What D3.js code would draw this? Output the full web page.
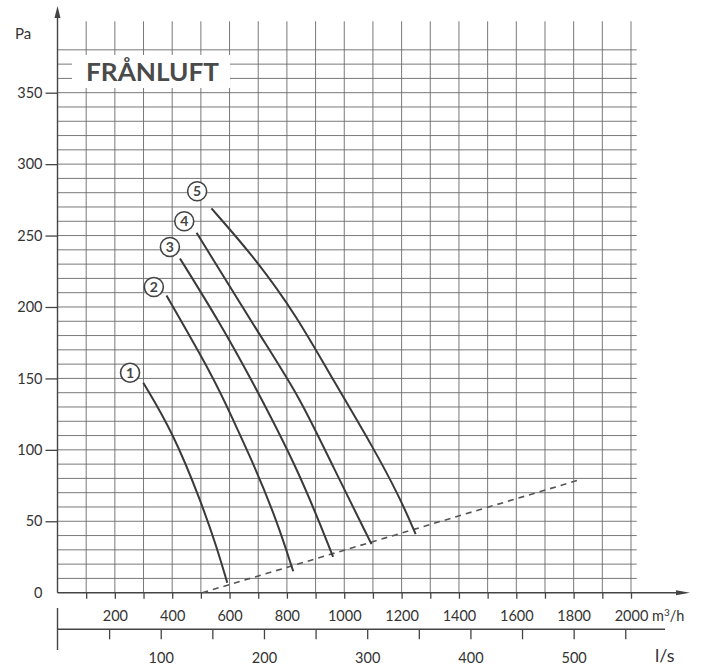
<!DOCTYPE html>
<html lang="sv">
<head>
<meta charset="UTF-8">
<title>Frånluft</title>
<script src="https://cdn.jsdelivr.net/npm/d3@7"></script>
<style>
    body { margin: 0; background: #fff; }
    text { font-family: Lato, 'Noto Sans', sans-serif; fill: #333; }
    .axis path, .axis line { stroke: #444; stroke-width: 1.3; fill: none; }
    .axis text { font-size: 14.5px; }
    .grid line { stroke: #6a6a6a; stroke-width: 0.9; }
    .curve { fill: none; stroke: #3a3a3a; stroke-width: 2; }
</style>
</head>
<body>
<svg id="img" width="708" height="670"></svg>
<script>
// fan curves, [m3/h, Pa]
var curve1 = [[299,147],[403,112],[502,63],[555,32],[592,7]];
var curve2 = [[380,208],[549,149],[612,121],[682,91],[764,51],[822,15]];
var curve3 = [[427,234],[566,189],[677,149],[845,84],[961,25]];
var curve4 = [[485,252],[706,180],[845,137],[961,88],[1095,34]];
var curve5 = [[537,269],[694,233],[833,194],[961,149],[1100,102],[1193,67],[1249,41]];
var curves = [curve1, curve2, curve3, curve4, curve5];
// circled number positions [m3/h, Pa]
var labelPos = [[253,154],[336,214],[392,242],[442,260],[487,281]];
var labelText = ["1","2","3","4","5"];
// dashed system line
var systemLine = [[505,0],[1820,79]];

var paTicks = [0,50,100,150,200,250,300,350];
var m3hTicks = d3.range(100, 2001, 100);
var m3hLabels = [200,400,600,800,1000,1200,1400,1600,1800,2000];
var lsTicks = d3.range(50, 551, 50);
var lsLabels = [100,200,300,400,500];

var svg = d3.select("#img");
var x = d3.scaleLinear().domain([0, 2000]).range([57.5, 631]);
var y = d3.scaleLinear().domain([0, 350]).range([592.7, 92.7]);
var xls = d3.scaleLinear().domain([0, 2000 / 3.6]).range([57.5, 631]);

// grid
var grid = svg.append("g").attr("class", "grid");
grid.selectAll(".v").data(m3hTicks).enter().append("line")
    .attr("x1", function (d) { return x(d); }).attr("x2", function (d) { return x(d); })
    .attr("y1", y(0)).attr("y2", y(400));
grid.selectAll(".h").data(d3.range(10, 381, 10)).enter().append("line")
    .attr("x1", x(0)).attr("x2", x(2020))
    .attr("y1", function (d) { return y(d); }).attr("y2", function (d) { return y(d); });

// title with white box behind
svg.append("rect").attr("x", 72).attr("y", 55).attr("width", 158).attr("height", 33).attr("fill", "#fff");
svg.append("text").attr("x", 86).attr("y", 81)
    .attr("textLength", 133).attr("lengthAdjust", "spacingAndGlyphs")
    .style("font-size", "25px").style("font-weight", "bold").style("fill", "#4a4a4a")
    .text("FRÅNLUFT");

// y axis
var yAxis = d3.axisLeft(y).tickValues(paTicks).tickSize(12).tickPadding(3);
var gy = svg.append("g").attr("class", "axis").attr("transform", "translate(" + x(0) + ",0)").call(yAxis);
gy.select(".domain").remove();
gy.selectAll(".tick").filter(function (d) { return d === 0; }).select("line").remove();
svg.append("line")
    .attr("x1", x(0)).attr("x2", x(0)).attr("y1", y(0)).attr("y2", 14)
    .attr("stroke", "#444").attr("stroke-width", 1.4);
svg.append("path").attr("d", "M" + (x(0) - 3) + ",18L" + x(0) + ",6L" + (x(0) + 3) + ",18Z").attr("fill", "#444");
svg.append("text").attr("x", 15).attr("y", 39).style("font-size", "15px").text("Pa");

// x axis m3/h
var xAxis = d3.axisBottom(x).tickValues(m3hTicks).tickSize(6).tickPadding(12)
    .tickFormat(function (d) { return m3hLabels.indexOf(d) >= 0 ? d : ""; });
var gx = svg.append("g").attr("class", "axis").attr("transform", "translate(0," + y(0) + ")").call(xAxis);
gx.select(".domain").remove();
svg.append("line").attr("x1", x(0)).attr("x2", 682).attr("y1", y(0)).attr("y2", y(0))
    .attr("stroke", "#444").attr("stroke-width", 1.4);
svg.append("path").attr("d", "M676," + (y(0) - 2.5) + "L690," + y(0) + "L676," + (y(0) + 2.5) + "Z").attr("fill", "#444");
svg.append("text").attr("x", 652).attr("y", 621).style("font-size", "14.5px")
    .html("m<tspan dy='-5' style='font-size:10px'>3</tspan><tspan dy='5'>/h</tspan>");

// x axis l/s
var lsAxis = d3.axisBottom(xls).tickValues(lsTicks).tickSize(10).tickPadding(13)
    .tickFormat(function (d) { return lsLabels.indexOf(d) >= 0 ? d : ""; });
var gls = svg.append("g").attr("class", "axis").attr("transform", "translate(0,629.3)").call(lsAxis);
gls.select(".domain").remove();
svg.append("line").attr("x1", x(0)).attr("x2", 665).attr("y1", 629.3).attr("y2", 629.3)
    .attr("stroke", "#444").attr("stroke-width", 1.6);
svg.append("line").attr("x1", x(0)).attr("x2", x(0)).attr("y1", 608).attr("y2", 650)
    .attr("stroke", "#444").attr("stroke-width", 1.4);
svg.append("text").attr("x", 655).attr("y", 662).style("font-size", "18px").text("l/s");

// system line
var line = d3.line().x(function (d) { return x(d[0]); }).y(function (d) { return y(d[1]); });
svg.append("path").attr("d", line(systemLine))
    .attr("fill", "none").attr("stroke", "#555").attr("stroke-width", 1.6)
    .attr("stroke-dasharray", "6,5");

// fan curves
var curveLine = d3.line().curve(d3.curveBasis)
    .x(function (d) { return x(d[0]); }).y(function (d) { return y(d[1]); });
svg.selectAll(".curve").data(curves).enter().append("path")
    .attr("class", "curve").attr("d", curveLine);

// circled numbers
var lab = svg.selectAll(".lab").data(labelPos).enter().append("g")
    .attr("transform", function (d) { return "translate(" + x(d[0]) + "," + y(d[1]) + ")"; });
lab.append("circle").attr("r", 9.5).attr("fill", "#fff").attr("stroke", "#444").attr("stroke-width", 1.6);
lab.append("text").attr("text-anchor", "middle").attr("dy", "0.36em")
    .style("font-size", "14px").style("font-weight", "bold").style("fill", "#444")
    .text(function (d, i) { return labelText[i]; });
</script>
</body>
</html>
